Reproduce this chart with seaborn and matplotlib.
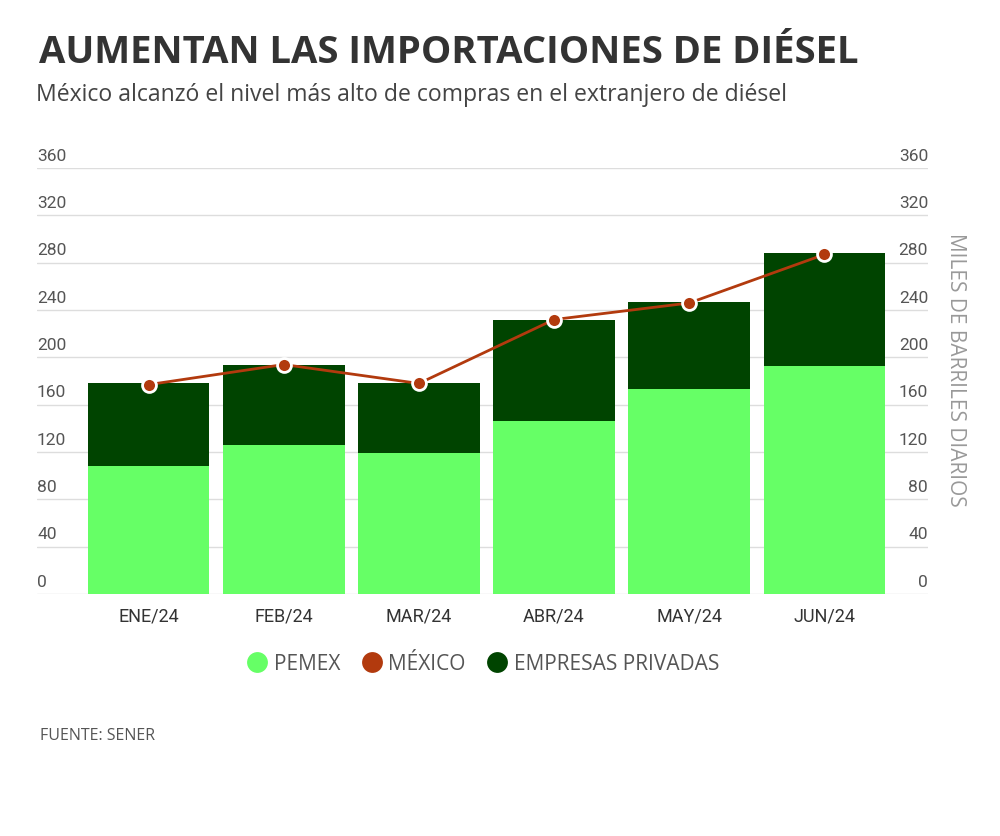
import numpy as np
import pandas as pd
import matplotlib
matplotlib.use('Agg')
import matplotlib.pyplot as plt
from matplotlib.lines import Line2D
import seaborn as sns

# datos (miles de barriles diarios)
meses = ['ENE/24', 'FEB/24', 'MAR/24', 'ABR/24', 'MAY/24', 'JUN/24']
pemex = [108, 126, 119, 146, 173, 193]
privadas = [70, 68, 59, 86, 74, 95]
mexico = [177, 194, 178, 232, 246, 287]
yticks = [0, 40, 80, 120, 160, 200, 240, 280, 320, 360]

verde_claro = '#66FF66'
verde_osc = '#004400'
rojo = '#B23A0E'

sns.set_theme(style='white')
plt.rcParams['font.family'] = ['Open Sans', 'DejaVu Sans']

df = pd.DataFrame({'mes': meses, 'pemex': pemex, 'privadas': privadas, 'mexico': mexico})
df['total'] = df['pemex'] + df['privadas']

fig = plt.figure(figsize=(10, 8.37), dpi=100)
ax = fig.add_axes([0.037, 0.289, 0.891, 0.509])

# barras apiladas: total (oscuro) y encima pemex (claro)
sns.barplot(data=df, x='mes', y='total', color=verde_osc, saturation=1, width=0.9, ax=ax, zorder=2)
sns.barplot(data=df, x='mes', y='pemex', color=verde_claro, saturation=1, width=0.9, ax=ax, zorder=3)
for p in ax.patches:
    p.set_linewidth(0)

sns.pointplot(data=df, x='mes', y='mexico', color=rojo, errorbar=None, ax=ax,
              markers='o', markersize=10, linewidth=2,
              markeredgecolor='white', markeredgewidth=2, zorder=5)

ax.set_ylim(0, 360)
ax.set_xlim(-0.825, 5.766)
ax.set_yticks(yticks)
ax.set_yticklabels([])
ax.tick_params(axis='y', length=0)
ax.yaxis.grid(True, color='#dddddd', linewidth=1)
ax.set_axisbelow(True)
for s in ax.spines.values():
    s.set_visible(False)

# etiquetas del eje y a ambos lados, sobre la linea
tr = ax.get_yaxis_transform()
for t in yticks:
    ax.text(0.0, t + 4.5, str(t), transform=tr, ha='left', va='bottom',
            fontsize=12.5, color='#555555', family=['Roboto', 'DejaVu Sans'])
    ax.text(1.0, t + 4.5, str(t), transform=tr, ha='right', va='bottom',
            fontsize=12.5, color='#555555', family=['Roboto', 'DejaVu Sans'])

ax.set_xlabel('')
ax.set_ylabel('')
ax.tick_params(axis='x', length=0, pad=9, labelsize=13, labelcolor='#333333')
for lbl in ax.get_xticklabels():
    lbl.set_family(['Roboto', 'DejaVu Sans'])

fig.text(0.955, 1 - 370 / 837, 'MILES DE BARRILES DIARIOS', rotation=-90, ha='center', va='center',
         fontsize=15, color='#999999')

fig.text(0.039, 1 - 53 / 837, 'AUMENTAN LAS IMPORTACIONES DE DIÉSEL', ha='left', va='center',
         fontsize=27.5, fontweight='bold', color='#333333')
fig.text(0.036, 1 - 95 / 837, 'México alcanzó el nivel más alto de compras en el extranjero de diésel',
         ha='left', va='center', fontsize=16.6, color='#444444')

handles = [
    Line2D([], [], marker='o', linestyle='none', markersize=15, markerfacecolor=verde_claro, markeredgewidth=0),
    Line2D([], [], marker='o', linestyle='none', markersize=15, markerfacecolor=rojo, markeredgewidth=0),
    Line2D([], [], marker='o', linestyle='none', markersize=15, markerfacecolor=verde_osc, markeredgewidth=0),
]
leg = fig.legend(handles, ['PEMEX', 'MÉXICO', 'EMPRESAS PRIVADAS'], loc='center', ncol=3,
                 bbox_to_anchor=(0.483, 1 - 665 / 837), frameon=False, fontsize=15,
                 handletextpad=0.3, columnspacing=1.0, handlelength=1.0)
for t in leg.get_texts():
    t.set_color('#555555')

fig.text(0.04, 1 - 736 / 837, 'FUENTE: SENER', ha='left', va='center', fontsize=11.5, color='#555555')

fig.savefig('out.png', dpi=100, facecolor='white')
